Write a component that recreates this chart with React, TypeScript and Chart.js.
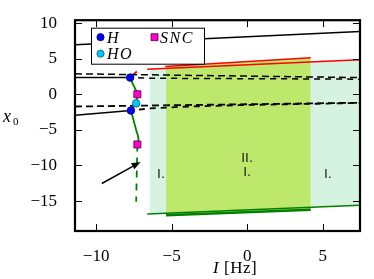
import React, { useEffect, useRef } from 'react';
import { Chart, registerables } from 'chart.js';

Chart.register(...registerables);

// ---- axes ----
const X_MIN = -11.4;
const X_MAX = 7.47;
const Y_MIN = -19.2;
const Y_MAX = 10.4;
const xTicks = [-10, -5, 0, 5];
const yTicks = [-15, -10, -5, 0, 5, 10];

// ---- black branches (solid) ----
const solidTopX = [-11.4, 7.47];
const solidTopY = [6.97, 8.82];
const solidMidX = [-11.4, -7.75];
const solidMidY = [2.34, 2.34];
const solidLowX = [-11.4, -7.7];
const solidLowY = [-2.95, -2.29];

// ---- black branches (dashed) ----
const dashU1X = [-11.4, 7.47];
const dashU1Y = [2.87, 2.34];
const dashU2X = [-7.75, -6.5, 7.47];
const dashU2Y = [2.34, 2.25, 2.12];
const dashL1X = [-11.4, 7.47];
const dashL1Y = [-1.72, -1.19];
const dashL2X = [-7.7, -6.5, -4.4, 0, 7.47];
const dashL2Y = [-2.29, -2.0, -1.76, -1.5, -1.22];

// ---- bifurcation curve near I = -7.5 ----
const upperCurveX = [-7.75, -7.57, -7.42, -7.27, -7.35];
const upperCurveY = [2.34, 1.46, 0.79, 0.0, -1.28];
const redLinkX = [-7.35, -7.7];
const redLinkY = [-1.28, -2.29];
const lowerCurveX = [-7.7, -7.53, -7.35, -7.2, -7.27];
const lowerCurveY = [-2.29, -3.57, -5.03, -6.2, -7.05];
const dashedGreenX = [-7.27, -7.35];
const dashedGreenY = [-7.05, -15.1];
const redStubX = [-7.75, -7.31];
const redStubY = [2.34, 3.2];

// ---- red / green boundary lines ----
const redLongX = [-6.62, 7.47];
const redLongY = [3.5, 4.85];
const redShortX = [-5.43, 4.21];
const redShortY = [3.9, 5.13];
const greenLongX = [-6.62, 7.47];
const greenLongY = [-16.8, -15.6];
const greenShortX = [-5.37, 4.21];
const greenShortY = [-17.0, -16.2];

// ---- shaded regions ----
const lightX = [-6.47, 7.47];
const lightTopY = [3.52, 4.85];
const lightBottomY = [-16.79, -15.6];
const brightX = [-5.37, 4.21];
const brightTopY = [3.91, 5.13];
const brightBottomY = [-17.0, -16.2];

// ---- markers ----
const hX = [-7.75, -7.7];
const hY = [2.34, -2.29];
const hoX = [-7.35];
const hoY = [-1.28];
const sncX = [-7.27, -7.27];
const sncY = [0.0, -7.05];

// ---- annotations ----
const regionLabels = ['I.', 'II.', 'I.', 'I.'];
const regionX = [-5.7, 0, 0, 5.35];
const regionY = [-11.25, -9.0, -11.0, -11.25];
const arrowX = [-9.62, -7.06];
const arrowY = [-12.53, -9.5];
const legendLabels = ['H', 'HO', 'SNC'];

const LIGHT = '#d6f2e0';
const BRIGHT = '#bde86c';
const GREEN = '#008000';
const RED = '#ff0000';
const SERIF = "'Liberation Serif', 'DejaVu Serif', serif";

const pts = (xs: number[], ys: number[]) => xs.map((x, i) => ({ x, y: ys[i] }));

const line = (xs: number[], ys: number[], color: string, width: number, dash: number[] = [], order = 0, extra: any = {}) => ({
  data: pts(xs, ys),
  showLine: true,
  borderColor: color,
  borderWidth: width,
  borderDash: dash,
  pointRadius: 0,
  pointHoverRadius: 0,
  fill: false,
  tension: 0,
  order,
  ...extra,
});

const minus = (v: number) => String(v).replace('-', '\u2212');

const decor = {
  id: 'decor',
  afterDraw(chart: any) {
    const { ctx, chartArea: a, scales } = chart;
    const xs = scales.x;
    const ys = scales.y;
    ctx.save();

    // region labels
    ctx.fillStyle = '#222';
    ctx.font = "13px 'DejaVu Sans', sans-serif";
    ctx.textAlign = 'center';
    ctx.textBaseline = 'middle';
    regionLabels.forEach((t, i) => {
      ctx.fillText(t, xs.getPixelForValue(regionX[i]), ys.getPixelForValue(regionY[i]));
    });

    // arrow
    const x0 = xs.getPixelForValue(arrowX[0]);
    const y0 = ys.getPixelForValue(arrowY[0]);
    const x1 = xs.getPixelForValue(arrowX[1]);
    const y1 = ys.getPixelForValue(arrowY[1]);
    const ang = Math.atan2(y1 - y0, x1 - x0);
    const hl = 9;
    const hw = 3.5;
    const bx = x1 - hl * Math.cos(ang);
    const by = y1 - hl * Math.sin(ang);
    ctx.strokeStyle = '#000';
    ctx.lineWidth = 1.5;
    ctx.beginPath();
    ctx.moveTo(x0, y0);
    ctx.lineTo(bx, by);
    ctx.stroke();
    ctx.fillStyle = '#000';
    ctx.beginPath();
    ctx.moveTo(x1, y1);
    ctx.lineTo(bx + hw * Math.sin(ang), by - hw * Math.cos(ang));
    ctx.lineTo(bx - hw * Math.sin(ang), by + hw * Math.cos(ang));
    ctx.closePath();
    ctx.fill();

    // ticks (inward)
    ctx.strokeStyle = '#000';
    ctx.lineWidth = 1;
    xTicks.forEach((v) => {
      const p = Math.round(xs.getPixelForValue(v)) + 0.5;
      ctx.beginPath();
      ctx.moveTo(p, a.bottom);
      ctx.lineTo(p, a.bottom - 7);
      ctx.moveTo(p, a.top);
      ctx.lineTo(p, a.top + 7);
      ctx.stroke();
    });
    yTicks.forEach((v) => {
      const p = Math.round(ys.getPixelForValue(v)) + 0.5;
      ctx.beginPath();
      ctx.moveTo(a.left, p);
      ctx.lineTo(a.left + 7, p);
      ctx.moveTo(a.right, p);
      ctx.lineTo(a.right - 7, p);
      ctx.stroke();
    });

    // frame
    ctx.lineWidth = 2.2;
    ctx.strokeRect(a.left, a.top, a.right - a.left, a.bottom - a.top);

    // legend
    const lx = a.left + 16;
    const ly = a.top + 7.5;
    ctx.fillStyle = '#fff';
    ctx.fillRect(lx, ly, 113, 36);
    ctx.lineWidth = 1;
    ctx.strokeStyle = '#000';
    ctx.strokeRect(lx + 0.5, ly + 0.5, 113, 36);
    const rows = [
      { kind: 'circle', color: '#0000ff', edge: '#00006a', mx: lx + 9.5, my: ly + 9.5, tx: lx + 16 },
      { kind: 'circle', color: '#00c8f0', edge: '#006080', mx: lx + 9.5, my: ly + 26, tx: lx + 16 },
      { kind: 'rect', color: '#ff00cc', edge: '#550044', mx: lx + 63.5, my: ly + 9.5, tx: lx + 69 },
    ];
    const order = [0, 1, 2];
    order.forEach((k) => {
      const r = rows[k];
      ctx.fillStyle = r.color;
      ctx.strokeStyle = r.edge;
      ctx.lineWidth = 0.8;
      ctx.beginPath();
      if (r.kind === 'circle') ctx.arc(r.mx, r.my, 3.6, 0, Math.PI * 2);
      else ctx.rect(r.mx - 3.5, r.my - 3.5, 7, 7);
      ctx.fill();
      ctx.stroke();
      ctx.fillStyle = '#000';
      ctx.font = `italic 16px ${SERIF}`;
      ctx.textAlign = 'left';
      ctx.textBaseline = 'alphabetic';
      (ctx as any).letterSpacing = '1.5px';
      ctx.fillText(legendLabels[k], r.tx, r.my + 5.5);
      (ctx as any).letterSpacing = '0px';
    });

    // axis titles
    ctx.fillStyle = '#000';
    ctx.textAlign = 'left';
    ctx.textBaseline = 'alphabetic';
    ctx.font = `italic 18px ${SERIF}`;
    ctx.fillText('x', 3, 122);
    ctx.font = `11px ${SERIF}`;
    ctx.fillText('0', 13, 125);
    ctx.font = `italic 17px ${SERIF}`;
    ctx.fillText('I', 213, 273);
    ctx.font = `17px ${SERIF}`;
    (ctx as any).letterSpacing = '0.5px';
    ctx.fillText('[Hz]', 224, 273);
    (ctx as any).letterSpacing = '0px';

    ctx.restore();
  },
};

export default function App() {
  const ref = useRef<HTMLCanvasElement>(null);
  useEffect(() => {
    const canvas = ref.current;
    if (!canvas) return;
    const transparent = 'rgba(0,0,0,0)';
    const datasets: any[] = [
      // shaded regions (drawn at the back)
      line(lightX, lightTopY, transparent, 0, [], 20, { fill: '+1', backgroundColor: LIGHT }),
      line(lightX, lightBottomY, transparent, 0, [], 20),
      line(brightX, brightTopY, transparent, 0, [], 19, { fill: '+1', backgroundColor: BRIGHT }),
      line(brightX, brightBottomY, transparent, 0, [], 19),
      // black branches
      line(solidTopX, solidTopY, '#000', 1.5),
      line(solidMidX, solidMidY, '#000', 1.5),
      line(solidLowX, solidLowY, '#000', 1.5),
      line(dashU1X, dashU1Y, '#000', 1.5, [7, 4]),
      line(dashU2X, dashU2Y, '#000', 1.5, [6, 5], 0, { borderDashOffset: 3 }),
      line(dashL1X, dashL1Y, '#000', 1.8, [7, 4]),
      line(dashL2X, dashL2Y, '#000', 1.8, [6, 5], 0, { borderDashOffset: 3 }),
      // red / green boundaries
      line(redLongX, redLongY, RED, 1.5),
      line(redShortX, redShortY, RED, 1.5),
      line(greenLongX, greenLongY, GREEN, 1.5),
      line(greenShortX, greenShortY, GREEN, 2.5),
      // bifurcation curve
      line(upperCurveX, upperCurveY, GREEN, 1.8, [], 0, { tension: 0.4 }),
      line(redLinkX, redLinkY, RED, 1.8),
      line(lowerCurveX, lowerCurveY, GREEN, 1.8, [], 0, { tension: 0.4 }),
      line(dashedGreenX, dashedGreenY, GREEN, 1.8, [7, 6]),
      line(redStubX, redStubY, RED, 1.8),
      // markers
      {
        data: pts(hX, hY), showLine: false, pointStyle: 'circle', pointRadius: 3.8, pointHoverRadius: 3.8,
        backgroundColor: '#0000ff', borderColor: '#00006a', borderWidth: 0.8, order: -1,
      },
      {
        data: pts(hoX, hoY), showLine: false, pointStyle: 'circle', pointRadius: 3.8, pointHoverRadius: 3.8,
        backgroundColor: '#00c8f0', borderColor: '#006080', borderWidth: 0.8, order: -1,
      },
      {
        data: pts(sncX, sncY), showLine: false, pointStyle: 'rect', pointRadius: 5, pointHoverRadius: 5,
        backgroundColor: '#ff00cc', borderColor: '#550044', borderWidth: 0.8, order: -1,
      },
    ];
    const chart = new Chart(canvas, {
      type: 'scatter',
      data: { datasets },
      options: {
        animation: false,
        responsive: false,
        events: [],
        layout: { padding: { top: 7.5, right: 14, left: 0, bottom: 0 } },
        plugins: { legend: { display: false }, tooltip: { enabled: false } },
        scales: {
          x: {
            type: 'linear',
            min: X_MIN,
            max: X_MAX,
            grid: { display: false },
            border: { display: false },
            afterBuildTicks: (s: any) => { s.ticks = xTicks.map((v) => ({ value: v })); },
            afterFit: (s: any) => { s.height = 48; },
            ticks: {
              padding: 7,
              color: '#000',
              maxRotation: 0,
              font: { family: SERIF, size: 17 },
              callback: (v: any) => minus(v),
            },
          },
          y: {
            type: 'linear',
            min: Y_MIN,
            max: Y_MAX,
            grid: { display: false },
            border: { display: false },
            afterBuildTicks: (s: any) => { s.ticks = yTicks.map((v) => ({ value: v })); },
            afterFit: (s: any) => { s.width = 75; },
            ticks: {
              padding: 10,
              color: '#000',
              font: { family: SERIF, size: 17 },
              callback: (v: any) => minus(v),
            },
          },
        },
      },
      plugins: [decor],
    });
    return () => chart.destroy();
  }, []);
  return (
    <div style={{ position: 'fixed', left: 0, top: 0, width: 374, height: 279, background: '#fff' }}>
      <canvas ref={ref} width={374} height={279} style={{ width: 374, height: 279, display: 'block' }} />
    </div>
  );
}
